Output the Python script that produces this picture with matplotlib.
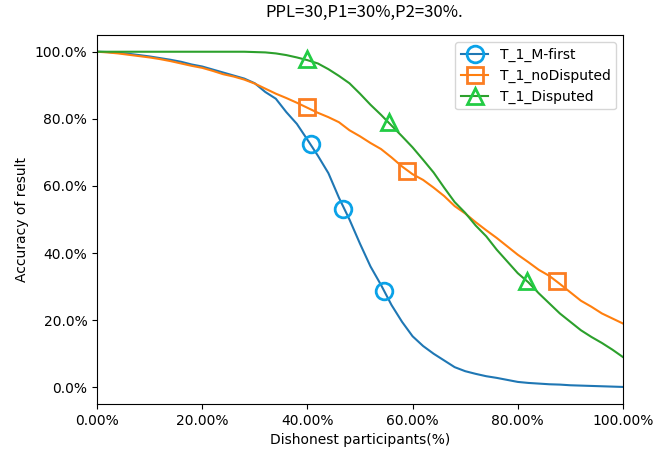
import matplotlib
matplotlib.use("Agg")
import matplotlib.pyplot as plt
from matplotlib.ticker import FuncFormatter
import numpy as np

x = list(range(0, 101, 2))

m_first = [100, 99.9, 99.7, 99.4, 99.0, 98.6, 98.1, 97.6, 97.0, 96.2,
           95.6, 94.7, 93.8, 92.9, 92.0, 90.6, 88.0, 86.0, 82.0, 78.5,
           73.8, 69.0, 63.8, 56.5, 50.0, 42.8, 36.0, 30.5, 24.5, 19.5,
           15.2, 12.3, 10.0, 8.0, 6.0, 4.8, 4.0, 3.3, 2.8, 2.2,
           1.6, 1.3, 1.1, 0.9, 0.8, 0.6, 0.5, 0.4, 0.3, 0.2, 0.1]

no_disputed = [100, 99.8, 99.5, 99.1, 98.7, 98.3, 97.8, 97.2, 96.5, 95.8,
               95.2, 94.3, 93.3, 92.6, 91.7, 90.5, 89.0, 87.5, 86.2, 84.8,
               83.3, 81.8, 80.5, 79.0, 76.6, 74.8, 72.8, 71.0, 68.5, 65.8,
               63.5, 61.8, 59.5, 57.0, 54.0, 51.8, 49.2, 46.8, 44.5, 42.0,
               39.5, 37.3, 35.0, 33.2, 30.8, 28.3, 25.8, 24.0, 22.0, 20.5, 19.0]

disputed = [100, 100, 100, 100, 100, 100, 100, 100, 100, 100,
            100, 100, 100, 100, 100, 99.9, 99.8, 99.5, 99.0, 98.3,
            97.5, 96.5, 94.8, 92.8, 90.6, 87.5, 84.2, 81.2, 78.0, 74.8,
            71.5, 67.8, 64.0, 59.5, 55.2, 52.0, 48.2, 45.0, 41.0, 37.5,
            34.0, 31.3, 28.0, 25.0, 22.0, 19.5, 17.0, 15.0, 13.2, 11.2, 9.0]

# marker positions
m_first_mx = [40.6, 46.8, 54.6]
m_first_my = [72.5, 53.2, 28.7]
no_disp_mx = [39.9, 58.9, 87.4]
no_disp_my = [83.5, 64.6, 31.8]
disp_mx = [39.9, 55.6, 81.7]
disp_my = [97.8, 79.0, 31.8]

labels = ["T_1_M-first", "T_1_noDisputed", "T_1_Disputed"]
title = "PPL=30,P1=30%,P2=30%."

fig = plt.figure(figsize=(6.67, 4.54), dpi=100)
ax = fig.add_axes([0.1454, 0.110, 0.7886, 0.813])

series = [
    (m_first, m_first_mx, m_first_my, '#1f77b4', '#0aa2e8', 'o'),
    (no_disputed, no_disp_mx, no_disp_my, '#ff7f0e', '#fb7d22', 's'),
    (disputed, disp_mx, disp_my, '#2ca02c', '#22cc44', '^'),
]
handles = []
for (ys, mx, my, lc, mc, mk), lab in zip(series, labels):
    ax.plot(x, ys, color=lc, lw=1.5)
    ax.plot(mx, my, ls='none', marker=mk, markersize=12, markerfacecolor='none',
            markeredgecolor=mc, markeredgewidth=2)
    h, = ax.plot([], [], color=lc, lw=1.5, marker=mk, markersize=12,
                 markerfacecolor='none', markeredgecolor=mc, markeredgewidth=2,
                 label=lab)
    handles.append(h)

ax.set_xlim(0, 100)
ax.set_ylim(-5, 105)
ax.set_xticks([0, 20, 40, 60, 80, 100])
ax.set_yticks([0, 20, 40, 60, 80, 100])
ax.xaxis.set_major_formatter(FuncFormatter(lambda v, p: "%.2f%%" % v))
ax.yaxis.set_major_formatter(FuncFormatter(lambda v, p: "%.1f%%" % v))
ax.set_xlabel("Dishonest participants(%)")
ax.set_ylabel("Accuracy of result")
ax.legend(handles=handles, loc='upper right')
fig.text(0.546, 0.972, title, ha='center', va='center', fontsize=12,
         family=['Noto Sans CJK SC', 'DejaVu Sans'])

fig.savefig("out.png", dpi=100)
